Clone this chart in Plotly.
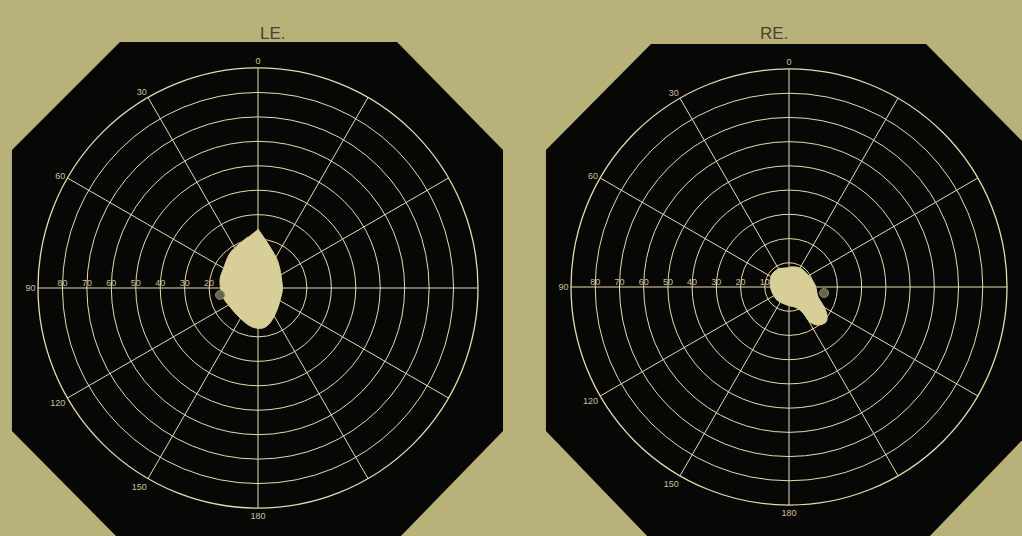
import plotly.graph_objects as go

# perimeter meridians (deg) and isopter rings (deg from fixation)
meridians = [0, 30, 60, 90, 120, 150, 180, 210, 240, 270, 300, 330]
meridian_labels = ["0", "30", "60", "90", "120", "150", "180", "", "", "", "", ""]
rings = [5, 10, 20, 30, 40, 50, 60, 70, 80, 90]
ring_labels = [10, 20, 30, 40, 50, 60, 70, 80]

# left eye field boundary (meridian, eccentricity)
le_theta = [0, 343.7, 322.4, 272.4, 226.5, 198.9, 187.1, 171.3, 149, 124.2,
            104.4, 78.1, 62.8, 38.7, 24.9, 11.1]
le_r = [24.1, 17.5, 13.4, 9.8, 11.3, 15.1, 16.5, 16.1, 14.3, 13.8,
        14.8, 15.9, 16.1, 18.3, 19.4, 21.3]
le_spot_theta = [100.4]
le_spot_r = [15.8]

# right eye field boundary
re_theta = [357.1, 329.9, 302.3, 274.4, 251, 242.1, 233.6, 226.6, 217.4, 211,
            208.3, 200.9, 173.7, 137.3, 106.4, 75.3, 48.8, 25.3]
re_r = [8.3, 9.1, 9.3, 10.8, 12.7, 15.9, 19.5, 21.0, 19.8, 16.9,
        12.2, 9.3, 7.5, 7.3, 7.3, 8.1, 8.8, 8.7]
re_spot_theta = [260.3]
re_spot_r = [14.7]

BG = "#b9b17a"
CHART = "#070706"
GRID = "#e4dcae"
FIELD = "#d8cf98"
LABEL = "#c9c19c"

W, H = 1022, 536


def px(x, y):
    return x / W, 1 - y / H


def octagon(pts):
    p = [px(x, y) for x, y in pts]
    return "M " + " L ".join(f"{a:.4f},{b:.4f}" for a, b in p) + " Z"


fig = go.Figure()

for sub, th, rr, sth, sr in [("polar", le_theta, le_r, le_spot_theta, le_spot_r),
                             ("polar2", re_theta, re_r, re_spot_theta, re_spot_r)]:
    fig.add_trace(go.Scatterpolar(
        r=ring_labels, theta=[90] * len(ring_labels), mode="text",
        text=[str(v) for v in ring_labels], textposition="top center",
        textfont=dict(size=9, color=LABEL, family="Liberation Sans"),
        subplot=sub, hoverinfo="skip"))
    fig.add_trace(go.Scatterpolar(
        r=rr, theta=th, fill="toself", fillcolor=FIELD, mode="lines",
        line=dict(color=FIELD, width=1, shape="spline"), subplot=sub, hoverinfo="skip"))
    fig.add_trace(go.Scatterpolar(
        r=sr, theta=sth, mode="markers",
        marker=dict(size=9, color="#66664c", line=dict(color="#8e8a68", width=1)),
        subplot=sub, hoverinfo="skip"))

polar_common = dict(
    bgcolor=CHART,
    angularaxis=dict(rotation=90, direction="counterclockwise", tickmode="array",
                     tickvals=meridians, ticktext=meridian_labels, ticks="",
                     showline=True, linecolor=GRID, linewidth=1.3,
                     gridcolor=GRID, gridwidth=1.4,
                     tickfont=dict(size=9, color=LABEL, family="Liberation Sans")),
    radialaxis=dict(range=[0, 90], tickmode="array", tickvals=rings,
                    showticklabels=False, ticks="", showline=False,
                    gridcolor=GRID, gridwidth=1.4),
)

fig.update_layout(
    width=W, height=H, margin=dict(l=0, r=0, t=0, b=0),
    paper_bgcolor=BG, plot_bgcolor=BG, showlegend=False,
    polar=dict(domain=dict(x=[38 / W, 478 / W], y=[1 - 508 / H, 1 - 68 / H]), **polar_common),
    polar2=dict(domain=dict(x=[571 / W, 1007 / W], y=[1 - 505 / H, 1 - 69 / H]), **polar_common),
    shapes=[
        dict(type="path", xref="paper", yref="paper", layer="below", line=dict(width=0),
             fillcolor=CHART,
             path=octagon([(120, 42), (397, 42), (503, 150), (503, 431), (397, 540),
                           (120, 540), (12, 431), (12, 150)])),
        dict(type="path", xref="paper", yref="paper", layer="below", line=dict(width=0),
             fillcolor=CHART,
             path=octagon([(651, 44), (926, 44), (1031, 150), (1031, 431), (926, 540),
                           (651, 540), (546, 431), (546, 150)])),
    ],
    annotations=[
        dict(text="LE.", x=258 / W, y=1 - 22 / H, xref="paper", yref="paper",
             showarrow=False, font=dict(size=17, color="#46432e", family="Liberation Sans")),
        dict(text="RE.", x=790 / W, y=1 - 22 / H, xref="paper", yref="paper",
             showarrow=False, font=dict(size=17, color="#46432e", family="Liberation Sans")),
    ],
)

fig.write_html("out.html", config={"displayModeBar": False},
               post_script="document.body.style.margin='0';document.body.style.overflow='hidden';")
